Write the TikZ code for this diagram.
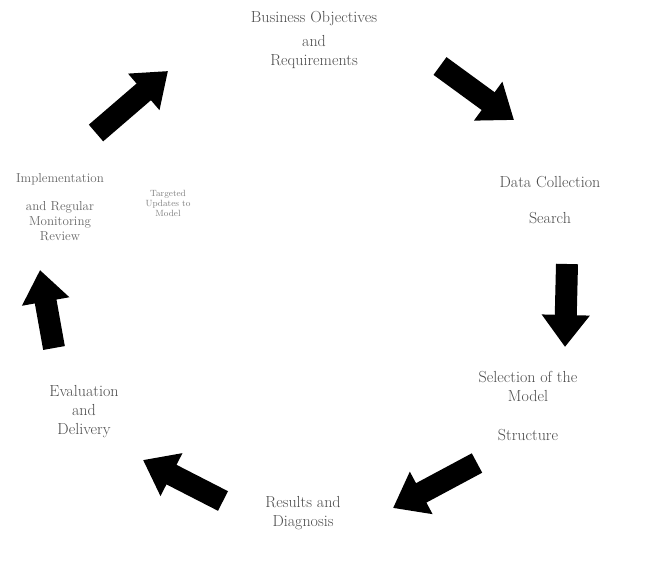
\documentclass[tikz,border=0pt]{standalone}
\usetikzlibrary{arrows.meta}
\begin{document}
\begin{tikzpicture}[x=1pt,y=-1pt,
  lbl/.style={font=\fontsize{16}{19}\selectfont, text=black!70, align=center, inner sep=0pt},
  small/.style={font=\fontsize{13}{15}\selectfont, text=black!60, align=center, inner sep=0pt},
  tiny/.style={font=\fontsize{9}{10}\selectfont, text=black!50, align=center, inner sep=0pt},
  blk/.style={line width=22pt, black, -{Triangle[length=32pt,width=46pt]}}]
\useasboundingbox[fill=white] (0,0) rectangle (647,581);
% labels
\node[lbl] (obj) at (314,40) {Business Objectives\\[5pt] and\\ Requirements};
\node[lbl] (data) at (550,200) {Data Collection\\[17pt] Search};
\node[lbl] (model) at (528,406) {Selection of the\\ Model\\[20pt] Structure};
\node[lbl] (diag) at (303,513) {Results and\\ Diagnosis};
\node[lbl] (eval) at (84,412) {Evaluation\\ and\\ Delivery};
\node[small] (impl) at (60,207) {Implementation\\[13pt] and Regular\\ Monitoring\\ Review};
\node[tiny] (upd) at (168,203) {Targeted\\ Updates to\\ Model};
% arrow end points
\coordinate (a1s) at (440,66);  \coordinate (a1e) at (514,120);
\coordinate (a2s) at (567,264); \coordinate (a2e) at (565,347);
\coordinate (a3s) at (477,463); \coordinate (a3e) at (393,508);
\coordinate (a4s) at (223,501); \coordinate (a4e) at (143,460);
\coordinate (a5s) at (54,348);  \coordinate (a5e) at (40,270);
\coordinate (a6s) at (96,133);  \coordinate (a6e) at (168,71);
% arrows
\draw[blk] (a1s) -- (a1e);
\draw[blk] (a2s) -- (a2e);
\draw[blk] (a3s) -- (a3e);
\draw[blk] (a4s) -- (a4e);
\draw[blk] (a5s) -- (a5e);
\draw[blk] (a6s) -- (a6e);
\end{tikzpicture}
\end{document}
